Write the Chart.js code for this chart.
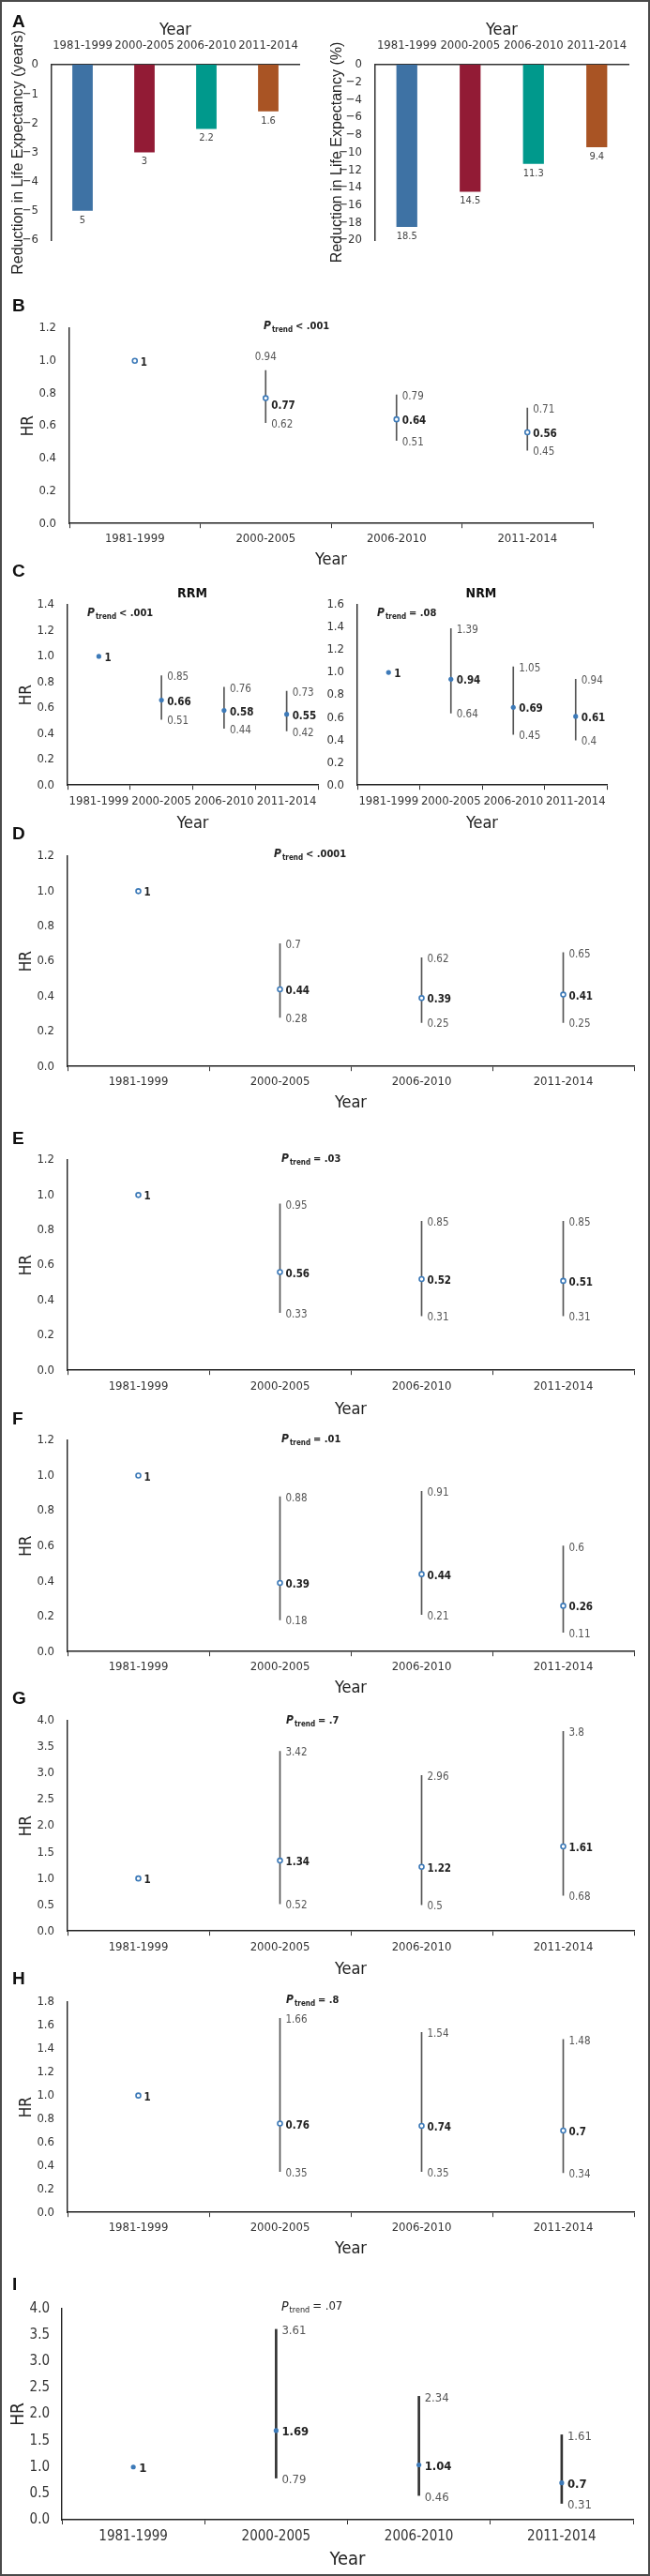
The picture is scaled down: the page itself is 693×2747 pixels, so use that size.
<!DOCTYPE html>
<html>
<head>
<meta charset="utf-8">
<script src="https://cdn.jsdelivr.net/npm/chart.js@4.4.1/dist/chart.umd.min.js"></script>
<style>
html, body { margin: 0; padding: 0; background: #fff; }
#fig { position: relative; width: 693px; height: 2747px; overflow: hidden; }
#frame { position: absolute; left: 0; top: 0; width: 689px; height: 2743px; border: 2px solid #4a4a4a; }
canvas { position: absolute; }
.letter { position: absolute; left: 13px; font: bold 19px "Liberation Sans", Arial, sans-serif; color: #111; line-height: 1; transform: translateY(-50%); }
.sub { position: absolute; font: bold 14px "Liberation Sans Narrow", "DejaVu Sans Condensed", Roboto, sans-serif; color: #111; line-height: 1; transform: translate(-50%, -50%); }
</style>
</head>
<body>
<div id="fig"><div id="frame"></div></div>
<script>
const periods = ['1981-1999', '2000-2005', '2006-2010', '2011-2014'];

// A: reduction in life expectancy
const lossYears = [-5, -3, -2.2, -1.6];
const lossPct = [-18.5, -14.5, -11.3, -9.4];
const barColors = ['#3e72a4', '#921b35', '#00998c', '#a95424'];

// B-I: hazard ratios with 95% CI
const hrAll = [1, 0.77, 0.64, 0.56];
const loAll = [null, 0.62, 0.51, 0.45];
const hiAll = [null, 0.94, 0.79, 0.71];

const hrRRM = [1, 0.66, 0.58, 0.55];
const loRRM = [null, 0.51, 0.44, 0.42];
const hiRRM = [null, 0.85, 0.76, 0.73];

const hrNRM = [1, 0.94, 0.69, 0.61];
const loNRM = [null, 0.64, 0.45, 0.4];
const hiNRM = [null, 1.39, 1.05, 0.94];

const hrD = [1, 0.44, 0.39, 0.41];
const loD = [null, 0.28, 0.25, 0.25];
const hiD = [null, 0.7, 0.62, 0.65];

const hrE = [1, 0.56, 0.52, 0.51];
const loE = [null, 0.33, 0.31, 0.31];
const hiE = [null, 0.95, 0.85, 0.85];

const hrF = [1, 0.39, 0.44, 0.26];
const loF = [null, 0.18, 0.21, 0.11];
const hiF = [null, 0.88, 0.91, 0.6];

const hrG = [1, 1.34, 1.22, 1.61];
const loG = [null, 0.52, 0.5, 0.68];
const hiG = [null, 3.42, 2.96, 3.8];

const hrH = [1, 0.76, 0.74, 0.7];
const loH = [null, 0.35, 0.35, 0.34];
const hiH = [null, 1.66, 1.54, 1.48];

const hrI = [1, 1.69, 1.04, 0.7];
const loI = [null, 0.79, 0.46, 0.31];
const hiI = [null, 3.61, 2.34, 1.61];

const NARROW = '"Liberation Sans Narrow", "DejaVu Sans Condensed", Roboto, sans-serif';
const SANS = '"Liberation Sans", Arial, sans-serif';
const BLUE = '#3d7ab8';

const fig = document.getElementById('fig');

function addCanvas(left, top, w, h) {
    const cv = document.createElement('canvas');
    cv.width = Math.round(w);
    cv.height = Math.round(h);
    cv.style.left = left + 'px';
    cv.style.top = top + 'px';
    cv.style.width = Math.round(w) + 'px';
    cv.style.height = Math.round(h) + 'px';
    fig.appendChild(cv);
    return cv.getContext('2d');
}

function addText(cls, text, x, y) {
    const d = document.createElement('div');
    d.className = cls;
    d.textContent = text;
    if (cls === 'letter') d.style.top = y + 'px';
    else { d.style.left = x + 'px'; d.style.top = y + 'px'; }
    fig.appendChild(d);
}

// value labels under the bars of panel A
const barValues = {
    id: 'barValues',
    afterDatasetsDraw(chart) {
        const c = chart.ctx;
        const vals = chart.data.datasets[0].data;
        c.save();
        c.font = `11px ${NARROW}`;
        c.fillStyle = '#444';
        c.textAlign = 'center';
        c.textBaseline = 'middle';
        chart.getDatasetMeta(0).data.forEach((bar, i) => {
            c.fillText(String(Math.abs(vals[i])), bar.x, bar.y + 10);
        });
        c.restore();
    }
};

// HR value + CI bound labels
const ciLabels = {
    id: 'ciLabels',
    afterDatasetsDraw(chart, args, o) {
        const c = chart.ctx;
        const ys = chart.scales.y;
        const hr = chart.data.datasets[0].data;
        const ci = chart.data.datasets[1].data;
        c.save();
        c.textBaseline = 'middle';
        chart.getDatasetMeta(0).data.forEach((pt, i) => {
            const drop = (o.dropBold || []).includes(i) ? 8 : 2;
            c.textAlign = 'left';
            c.font = `bold ${o.size}px ${NARROW}`;
            c.fillStyle = '#222';
            c.fillText(String(hr[i]), pt.x + 6, pt.y + drop);
            if (!ci[i]) return;
            const [lo, hi] = ci[i];
            const yHi = ys.getPixelForValue(hi);
            const yLo = ys.getPixelForValue(lo);
            c.font = `${o.size}px ${NARROW}`;
            c.fillStyle = '#555';
            if ((o.liftHigh || []).includes(i)) {
                c.textAlign = 'center';
                c.fillText(String(hi), pt.x, yHi - 14);
                c.textAlign = 'left';
            } else {
                c.fillText(String(hi), pt.x + 6, yHi + 2);
            }
            c.fillText(String(lo), pt.x + 6, yLo + 2);
        });
        c.restore();
    }
};

// P trend annotation
const ptrend = {
    id: 'ptrend',
    afterDraw(chart, args, o) {
        const c = chart.ctx;
        const w = o.bold ? 'bold ' : '';
        let x = o.x;
        const y = o.y;
        c.save();
        c.fillStyle = '#222';
        c.textBaseline = 'middle';
        c.textAlign = 'left';
        c.font = `italic ${w}${o.size + 1}px ${NARROW}`;
        c.fillText('P', x, y);
        x += c.measureText('P').width + 1;
        c.font = `${w}${Math.round(o.size * 0.72)}px ${NARROW}`;
        c.fillText('trend', x, y + 4);
        x += c.measureText('trend').width + 3;
        c.font = `${w}${o.size}px ${NARROW}`;
        c.fillText(o.text, x, y);
        c.restore();
    }
};

function minusFmt(v) {
    return v < 0 ? '\u2212' + Math.abs(v) : String(v);
}

function barPanel(p) {
    const top = 14;
    const h = 300 - top;
    const w = p.right + 10 - p.canvasLeft;
    const ctx = addCanvas(p.canvasLeft, top, w, h);
    new Chart(ctx, {
        type: 'bar',
        data: {
            labels: periods,
            datasets: [{
                data: p.values,
                backgroundColor: barColors,
                barPercentage: 0.33,
                categoryPercentage: 1
            }]
        },
        plugins: [barValues],
        options: {
            responsive: false,
            animation: false,
            devicePixelRatio: 1,
            layout: { padding: { top: 0, right: 10, left: 0, bottom: h - (p.bottom - top) } },
            plugins: { legend: { display: false }, tooltip: { enabled: false } },
            scales: {
                x: {
                    position: 'top',
                    offset: true,
                    grid: { display: false },
                    border: { color: '#333', width: 1.5 },
                    ticks: { font: { family: NARROW, size: 13 }, color: '#333', padding: 4.5, autoSkip: false, maxRotation: 0 },
                    title: { display: true, text: 'Year', font: { family: NARROW, size: 18 }, color: '#222', padding: { top: 8, bottom: 0 } },
                    afterFit: s => { s.height = p.zero - top; }
                },
                y: {
                    min: p.min,
                    max: 0,
                    grid: { display: false },
                    border: { color: '#333', width: 1.5 },
                    ticks: { stepSize: p.step, font: { family: NARROW, size: 13 }, color: '#333', padding: 6, callback: minusFmt },
                    title: { display: true, text: p.title, font: { family: SANS, size: 16 }, color: '#222', padding: { top: p.titleX - p.canvasLeft - 9.6, bottom: 0 } },
                    afterFit: s => { s.width = p.left - p.canvasLeft; }
                }
            }
        }
    });
}

function hrPanel(p) {
    const big = !!p.big;
    const tickSize = big ? 15 : 13;
    const lblSize = big ? 13 : 11.5;
    const yearSize = big ? 20 : 18;
    const tickLH = tickSize * 1.2;
    const padTop = 22;
    const left = p.canvasLeft;
    const top = p.top - padTop;
    const axisBottom = p.yearY + yearSize * 0.6 + 3;
    const w = p.right + 10 - left;
    const h = axisBottom - top;
    const ctx = addCanvas(left, top, w, h);
    new Chart(ctx, {
        type: 'bar',
        data: {
            labels: periods,
            datasets: [{
                type: 'line',
                data: p.hr,
                showLine: false,
                pointRadius: p.ring ? 2.5 : 2.6,
                pointBorderWidth: p.ring ? 1.6 : 0,
                pointBackgroundColor: p.ring ? '#fff' : BLUE,
                pointBorderColor: BLUE,
                order: 0
            }, {
                type: 'bar',
                data: p.lo.map((lo, i) => lo == null ? null : [lo, p.hi[i]]),
                backgroundColor: big ? '#333' : '#555',
                barThickness: big ? 2 : 1,
                order: 1
            }]
        },
        plugins: [ciLabels, ptrend],
        options: {
            responsive: false,
            animation: false,
            devicePixelRatio: 1,
            layout: { padding: { top: padTop, right: 10, left: 0, bottom: 0 } },
            plugins: {
                legend: { display: false },
                tooltip: { enabled: false },
                ciLabels: { size: lblSize, liftHigh: p.liftHigh, dropBold: p.dropBold },
                ptrend: { x: p.pt.x - left, y: p.pt.y - top, text: p.pt.text, bold: !big, size: big ? 13 : 11 }
            },
            scales: {
                x: {
                    offset: true,
                    grid: { offset: true, display: true, drawOnChartArea: false, drawTicks: true, tickLength: 5, color: '#333', lineWidth: 1 },
                    border: { color: '#222', width: 1.6 },
                    ticks: {
                        font: { family: NARROW, size: tickSize }, color: '#333',
                        padding: p.tickY - p.zero - 5 - tickLH / 2,
                        autoSkip: false, maxRotation: 0, minRotation: 0
                    },
                    title: { display: true, text: 'Year', font: { family: NARROW, size: yearSize }, color: '#222', padding: { top: 0, bottom: 3 } },
                    afterFit: s => { s.height = axisBottom - p.zero; }
                },
                y: {
                    min: 0,
                    max: p.yMax,
                    grid: { display: false },
                    border: { color: '#222', width: 1.4 },
                    ticks: { stepSize: p.step, font: { family: NARROW, size: tickSize }, color: '#333', padding: big ? 5 : 6, callback: v => v.toFixed(1) },
                    title: {
                        display: p.hrX != null,
                        text: 'HR',
                        font: { family: NARROW, size: big ? 19 : 17 }, color: '#222',
                        padding: { top: (p.hrX || 0) - left - (big ? 19 : 17) * 0.6, bottom: 0 }
                    },
                    afterFit: s => { s.width = p.left - left; }
                }
            }
        }
    });
}

// Panel A
barPanel({ values: lossYears, min: -6, step: 1, zero: 69, bottom: 256, left: 55, right: 319, canvasLeft: 0, titleX: 20, title: 'Reduction in Life Expectancy (years)' });
barPanel({ values: lossPct, min: -20, step: 2, zero: 69, bottom: 256, left: 400, right: 670, canvasLeft: 340, titleX: 360, title: 'Reduction in Life Expectancy (%)' });

// Panel B
hrPanel({ hr: hrAll, lo: loAll, hi: hiAll, yMax: 1.2, step: 0.2, top: 350, zero: 558, left: 74, right: 632, canvasLeft: 0,
    tickY: 574, yearY: 597, hrX: 31, ring: true, pt: { x: 281, y: 348, text: '< .001' }, liftHigh: [1], dropBold: [1] });

// Panel C
hrPanel({ hr: hrRRM, lo: loRRM, hi: hiRRM, yMax: 1.4, step: 0.2, top: 645, zero: 837, left: 72, right: 339, canvasLeft: 0,
    tickY: 854, yearY: 878, hrX: 29, ring: false, pt: { x: 93, y: 654, text: '< .001' } });
hrPanel({ hr: hrNRM, lo: loNRM, hi: hiNRM, yMax: 1.6, step: 0.2, top: 645, zero: 837, left: 381, right: 647, canvasLeft: 345,
    tickY: 854, yearY: 878, hrX: null, ring: false, pt: { x: 402, y: 654, text: '= .08' } });

// Panels D-H
hrPanel({ hr: hrD, lo: loD, hi: hiD, yMax: 1.2, step: 0.2, top: 913, zero: 1137, left: 72, right: 676, canvasLeft: 0,
    tickY: 1153, yearY: 1176, hrX: 29, ring: true, pt: { x: 292, y: 911, text: '< .0001' } });
hrPanel({ hr: hrE, lo: loE, hi: hiE, yMax: 1.2, step: 0.2, top: 1237, zero: 1461, left: 72, right: 676, canvasLeft: 0,
    tickY: 1478, yearY: 1503, hrX: 29, ring: true, pt: { x: 300, y: 1236, text: '= .03' } });
hrPanel({ hr: hrF, lo: loF, hi: hiF, yMax: 1.2, step: 0.2, top: 1536, zero: 1761, left: 72, right: 676, canvasLeft: 0,
    tickY: 1777, yearY: 1800, hrX: 29, ring: true, pt: { x: 300, y: 1535, text: '= .01' } });
hrPanel({ hr: hrG, lo: loG, hi: hiG, yMax: 4, step: 0.5, top: 1835, zero: 2059, left: 72, right: 676, canvasLeft: 0,
    tickY: 2076, yearY: 2100, hrX: 29, ring: true, pt: { x: 305, y: 1835, text: '= .7' } });
hrPanel({ hr: hrH, lo: loH, hi: hiH, yMax: 1.8, step: 0.2, top: 2135, zero: 2359, left: 72, right: 676, canvasLeft: 0,
    tickY: 2375, yearY: 2398, hrX: 29, ring: true, pt: { x: 305, y: 2133, text: '= .8' } });

// Panel I
hrPanel({ hr: hrI, lo: loI, hi: hiI, yMax: 4, step: 0.5, top: 2462, zero: 2687, left: 66, right: 675, canvasLeft: 0,
    tickY: 2705, yearY: 2730, hrX: 20, ring: false, big: true, pt: { x: 300, y: 2460, text: '= .07' } });

// panel letters and subtitles
[['A', 22], ['B', 325], ['C', 608], ['D', 888], ['E', 1213], ['F', 1512], ['G', 1810], ['H', 2109], ['I', 2435]]
    .forEach(([t, y]) => addText('letter', t, 0, y));
addText('sub', 'RRM', 205, 632);
addText('sub', 'NRM', 513, 632);
</script>
</body>
</html>
